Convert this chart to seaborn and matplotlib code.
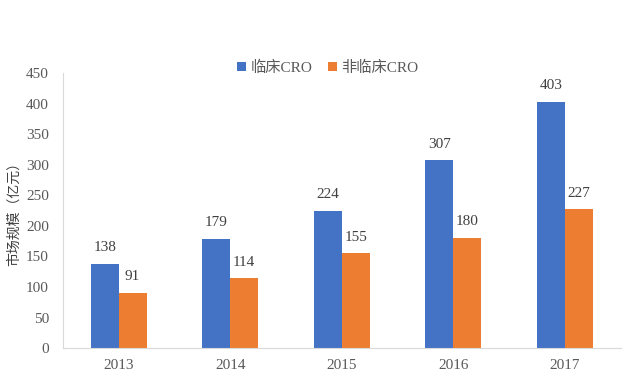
import seaborn as sns
import pandas as pd
import matplotlib.pyplot as plt

years = ['2013', '2014', '2015', '2016', '2017']
clinical = [138, 179, 224, 307, 403]
nonclinical = [91, 114, 155, 180, 227]
series = ['临床CRO', '非临床CRO']

df = pd.DataFrame({
    'year': years * 2,
    'value': clinical + nonclinical,
    'type': [series[0]] * 5 + [series[1]] * 5,
})

sns.set_style('white')
plt.rcParams['font.family'] = ['Liberation Serif', 'Noto Sans CJK SC', 'DejaVu Sans']

fig = plt.figure(figsize=(6.23, 3.76), dpi=100)
ax = fig.add_axes([0.101, 0.074, 0.895, 0.732])

sns.barplot(data=df, x='year', y='value', hue='type', ax=ax,
            palette=['#4472C4', '#ED7D31'], width=0.5, saturation=1,
            linewidth=0)

for c in ax.containers:
    ax.bar_label(c, fmt='%d', padding=7, fontsize=11, color='#404040')

ax.set_ylim(0, 450)
ax.set_yticks(range(0, 451, 50))
ax.set_xlabel('')
ax.set_ylabel('市场规模（亿元）', fontsize=10, color='#404040')
ax.tick_params(axis='y', length=4, color='#D9D9D9', labelsize=11, labelcolor='#595959', pad=6)
ax.tick_params(axis='x', length=0, labelsize=11, labelcolor='#595959', pad=8)

for s in ['top', 'right']:
    ax.spines[s].set_visible(False)
ax.spines['left'].set_color('#D9D9D9')
ax.spines['bottom'].set_color('#D9D9D9')

ax.legend(loc='upper center', bbox_to_anchor=(0.475, 1.095), ncol=2, frameon=False,
          fontsize=11, handlelength=0.6, handleheight=0.6, handletextpad=0.3,
          columnspacing=1.0, labelcolor='#595959')

fig.savefig('out.png', dpi=100)
